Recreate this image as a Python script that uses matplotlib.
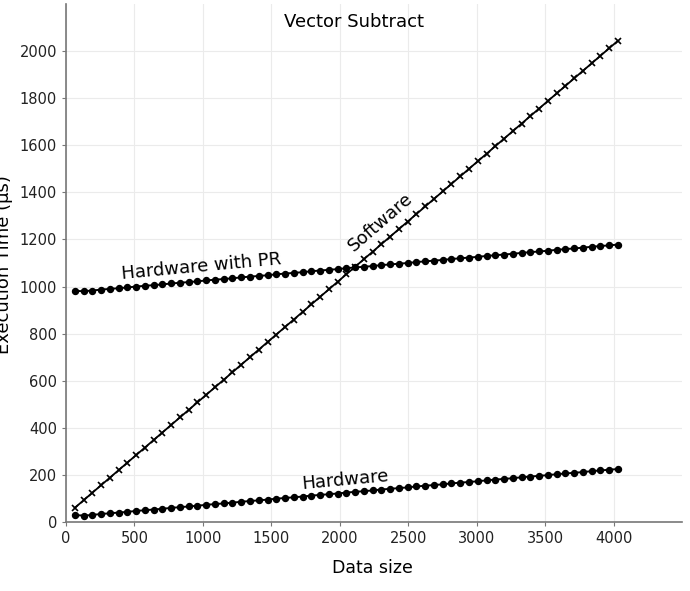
import matplotlib
matplotlib.use("Agg")
import matplotlib.pyplot as plt

data_size = [64, 128, 192, 256, 320, 384, 448, 512, 576, 640, 704, 768, 832, 896, 960,
             1024, 1088, 1152, 1216, 1280, 1344, 1408, 1472, 1536, 1600, 1664, 1728, 1792,
             1856, 1920, 1984, 2048, 2112, 2176, 2240, 2304, 2368, 2432, 2496, 2560, 2624,
             2688, 2752, 2816, 2880, 2944, 3008, 3072, 3136, 3200, 3264, 3328, 3392, 3456,
             3520, 3584, 3648, 3712, 3776, 3840, 3904, 3968, 4032]

software = [60, 92, 124, 156, 188, 220, 252, 284, 316, 348, 380, 412, 444, 476, 508,
            540, 572, 604, 636, 668, 700, 732, 764, 796, 828, 860, 892, 924, 956, 988,
            1020, 1052, 1084, 1116, 1148, 1180, 1212, 1244, 1276, 1308, 1340, 1372, 1404,
            1436, 1468, 1500, 1532, 1564, 1596, 1628, 1660, 1692, 1724, 1756, 1788, 1820,
            1852, 1884, 1916, 1948, 1980, 2012, 2044]

hardware_pr = [982, 980, 983, 987, 990, 993, 996, 1000, 1003, 1006, 1009, 1013, 1016, 1019,
               1022, 1026, 1029, 1032, 1035, 1039, 1042, 1045, 1048, 1052, 1055, 1058, 1061,
               1065, 1068, 1071, 1074, 1078, 1081, 1084, 1087, 1091, 1094, 1097, 1100, 1104,
               1107, 1110, 1113, 1117, 1120, 1123, 1126, 1130, 1133, 1136, 1139, 1143, 1146,
               1149, 1152, 1156, 1159, 1162, 1165, 1169, 1172, 1175, 1178]

hardware = [30, 27, 30, 34, 37, 40, 43, 47, 50, 53, 56, 60, 63, 66, 69, 73, 76, 79, 82, 86,
            89, 92, 95, 99, 102, 105, 108, 112, 115, 118, 121, 125, 128, 131, 134, 138, 141,
            144, 147, 151, 154, 157, 160, 164, 167, 170, 173, 177, 180, 183, 186, 190, 193,
            196, 199, 203, 206, 209, 212, 216, 219, 222, 225]

x_ticks = [0, 500, 1000, 1500, 2000, 2500, 3000, 3500, 4000]
y_ticks = [0, 200, 400, 600, 800, 1000, 1200, 1400, 1600, 1800, 2000]

plt.rcParams['font.family'] = ['DejaVu Sans']

fig = plt.figure(figsize=(6.9, 5.91), dpi=100)
ax = fig.add_axes([66/690, 1-522/591, (682-66)/690, (522-4)/591])

ax.plot(data_size, software, color='black', lw=1.3, marker='x', ms=5, mew=1.2, zorder=3)
ax.plot(data_size, hardware_pr, color='black', lw=1.4, marker='o', ms=4.3, zorder=3)
ax.plot(data_size, hardware, color='black', lw=1.4, marker='o', ms=4.3, zorder=3)

ax.set_xlim(0, 4500)
ax.set_ylim(0, 2200)
ax.set_xticks(x_ticks)
ax.set_yticks(y_ticks)
ax.grid(True, color='#ebebeb', lw=0.8)
ax.set_axisbelow(True)

for s in ['top', 'right']:
    ax.spines[s].set_visible(False)
for s in ['left', 'bottom']:
    ax.spines[s].set_color('#777777')
    ax.spines[s].set_linewidth(1.2)
ax.tick_params(axis='both', colors='#777777', labelcolor='#222222', labelsize=10.5,
               length=3, width=0.8)

ax.text(2105, 2123, 'Vector Subtract', fontsize=13, ha='center', va='center')
ax.text(987, 1083, 'Hardware with PR', fontsize=13, ha='center', va='center',
        rotation=5.3, rotation_mode='anchor')
ax.text(2300, 1272, 'Software', fontsize=13, ha='center', va='center',
        rotation=41, rotation_mode='anchor')
ax.text(2039, 180, 'Hardware', fontsize=13, ha='center', va='center',
        rotation=5.3, rotation_mode='anchor')

fig.text(372/690, 1-568/591, 'Data size', fontsize=12.5, ha='center', va='center')
fig.text(4/690, 1-265/591, 'Execution Time (μs)', fontsize=13, ha='center', va='center',
         rotation=90)

fig.savefig('out.png', dpi=100)
